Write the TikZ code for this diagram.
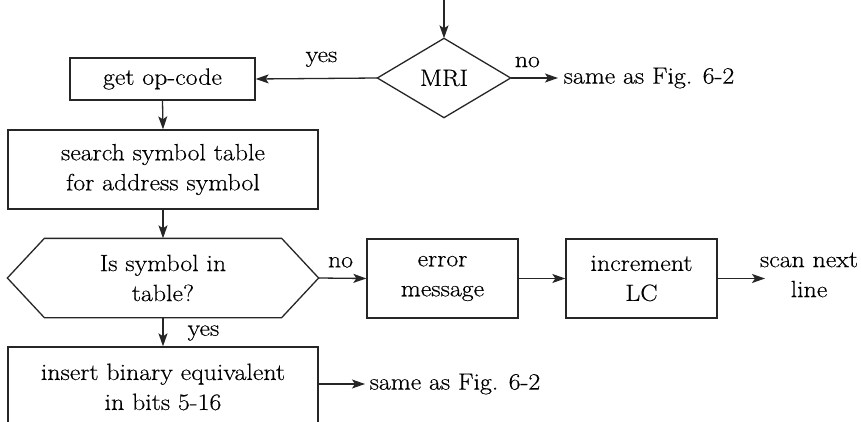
\documentclass[tikz,border=0pt]{standalone}
\usepackage{fontspec}
\setmainfont[FakeStretch=1.1,FakeBold=0.4]{Latin Modern Roman}
\usetikzlibrary{arrows.meta}
\begin{document}
\begin{tikzpicture}[x=1pt,y=-1pt,
  font=\fontsize{23.5}{30}\selectfont,
  line width=1.3pt, draw=black!85,
  box/.style={draw, rectangle, align=center, inner sep=0pt},
  plain/.style={draw=none, inner sep=0pt},
  lbl/.style={inner sep=0pt},
  arr/.style={-{Stealth[length=13pt,width=9pt,inset=3pt]}}]
\clip (0,0) rectangle (861,422);
\fill[white] (0,0) rectangle (861,422);
% nodes
\coordinate (top) at (444,-2);
\node[plain, minimum width=132pt, minimum height=78pt] (mri) at (444,78) {MRI};
\draw (mri.north) -- (mri.east) -- (mri.south) -- (mri.west) -- cycle;
\node[box, minimum width=185pt, minimum height=42pt] (op) at (162.5,79) {get op-code};
\node[lbl, anchor=west] (same1) at (563,78) {same as Fig. 6-2};
\coordinate (same1tip) at (558,78);
\node[box, minimum width=310pt, minimum height=79pt] (search) at (163,169.5) {search symbol table\\for address symbol};
\node[plain, align=center, minimum width=310pt, minimum height=78pt] (hex) at (163,278) {Is symbol in\\table?};
\draw ([xshift=37pt]hex.north west) -- ([xshift=-37pt]hex.north east) -- (hex.east)
  -- ([xshift=-37pt]hex.south east) -- ([xshift=37pt]hex.south west) -- (hex.west) -- cycle;
\node[box, minimum width=151pt, minimum height=79pt] (err) at (442.5,278.5) {error\\message};
\node[box, minimum width=151pt, minimum height=79pt] (inc) at (641.5,278.5) {increment\\LC};
\node[lbl, align=center] (scan) at (809,275) {scan next\\line};
\coordinate (scantip) at (765,278.5);
\node[box, minimum width=310pt, minimum height=80pt] (ins) at (163,387) {insert binary equivalent\\in bits 5-16};
\node[lbl, anchor=west] (same2) at (369,384) {same as Fig. 6-2};
\coordinate (same2tip) at (365,384);
% connectors
\draw[arr] (top) -- (mri.north);
\draw[arr] (mri.west) -- node[lbl, above=11pt, xshift=5pt]{yes} (op.east);
\draw[arr] (mri.east) -- node[lbl, above=10pt, xshift=-7pt]{no} (same1tip);
\draw[arr] (op.south) -- (search.north);
\draw[arr] (search.south) -- (hex.north);
\draw[arr] (hex.east) -- node[lbl, above=10pt, xshift=-2pt]{no} (err.west);
\draw[arr] (err.east) -- (inc.west);
\draw[arr] (inc.east) -- (scantip);
\draw[arr] (hex.south) -- node[lbl, right=24pt, yshift=-1pt]{yes} (ins.north);
\draw[arr] (ins.east |- same2tip) -- (same2tip);
\end{tikzpicture}
\end{document}
